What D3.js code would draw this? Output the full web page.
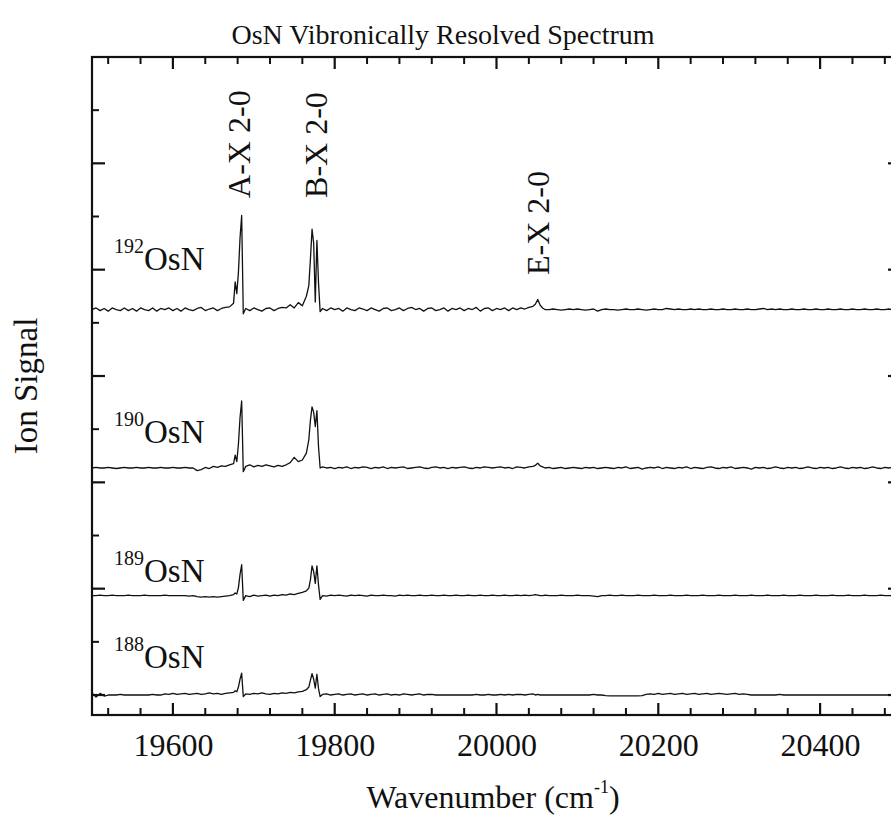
<!DOCTYPE html>
<html><head><meta charset="utf-8">
<script src="https://cdn.jsdelivr.net/npm/d3@7"></script>
<style>
body{margin:0;background:#fff}
text{font-family:"Liberation Serif","Times New Roman",serif;fill:#111}
</style>
</head><body><svg id="c" width="891" height="829"></svg>
<script>
// ---------- DATA ----------
const wavenumbers = [
19500,19505,19510,19515,19520,19525,19530,19535,19540,19545,
19550,19555,19560,19565,19570,19575,19580,19585,19590,19595,
19600,19605,19610,19615,19620,19625,19630,19635,19640,19645,
19650,19655,19660,19665,19670,19675,19677,19679,19681,19683,
19685,19687,19690,19695,19700,19705,19710,19715,19720,19725,
19730,19735,19740,19745,19750,19755,19760,19765,19768,19770,
19772,19774,19776,19778,19780,19782,19785,19790,19795,19800,
19805,19810,19815,19820,19825,19830,19835,19840,19845,19850,
19855,19860,19865,19870,19875,19880,19885,19890,19895,19900,
19905,19910,19915,19920,19925,19930,19935,19940,19945,19950,
19955,19960,19965,19970,19975,19980,19985,19990,19995,20000,
20005,20010,20015,20020,20025,20030,20035,20040,20045,20048,
20051,20054,20057,20060,20065,20070,20075,20080,20085,20090,
20095,20100,20105,20110,20115,20120,20125,20130,20135,20140,
20145,20150,20155,20160,20165,20170,20175,20180,20185,20190,
20195,20200,20205,20210,20215,20220,20225,20230,20235,20240,
20245,20250,20255,20260,20265,20270,20275,20280,20285,20290,
20295,20300,20305,20310,20315,20320,20325,20330,20335,20340,
20345,20350,20355,20360,20365,20370,20375,20380,20385,20390,
20395,20400,20405,20410,20415,20420,20425,20430,20435,20440,
20445,20450,20455,20460,20465,20470,20475,20480,20485,20490,
20495,20500];

const signal192 = [
0.00,0.03,-0.02,0.02,-0.03,0.03,0.00,-0.02,0.03,-0.02,
0.02,-0.03,0.03,0.00,-0.02,0.03,-0.03,0.02,0.00,0.03,
-0.02,0.02,-0.03,0.03,0.00,-0.02,0.02,0.04,-0.02,0.01,
0.03,-0.02,0.02,0.04,0.05,0.12,0.52,0.30,0.70,1.35,
1.77,-0.08,0.02,-0.02,0.03,0.00,-0.03,0.02,0.03,-0.02,
0.02,0.04,0.03,0.09,0.03,0.13,0.07,0.25,0.45,0.95,
1.51,1.25,0.14,1.30,0.50,-0.04,0.02,-0.02,0.03,0.00,
0.02,-0.03,0.03,0.00,-0.02,0.03,0.01,-0.02,0.03,0.00,
-0.03,0.02,0.03,-0.02,0.00,0.03,-0.02,0.02,0.04,0.00,
0.02,-0.03,0.02,0.03,-0.02,0.00,0.03,-0.03,0.02,0.00,
0.03,-0.02,0.02,0.00,0.04,-0.03,0.02,0.03,-0.02,0.02,
0.00,0.03,-0.02,0.03,0.00,0.03,0.01,0.04,0.06,0.10,
0.19,0.08,0.03,0.00,0.00,0.01,0.00,-0.01,0.00,0.01,
0.00,0.01,0.00,-0.01,0.00,0.01,-0.03,0.00,0.01,0.00,
0.00,-0.01,0.00,0.01,0.00,0.00,0.01,0.00,-0.01,0.00,
0.01,0.00,0.00,0.02,0.01,0.00,0.01,0.00,0.00,0.01,
0.00,0.01,0.00,0.00,0.01,0.00,0.00,0.01,0.00,0.00,
0.01,0.00,0.00,0.01,0.00,0.00,0.01,0.02,0.00,0.01,
0.00,0.01,0.00,0.00,0.01,0.00,0.00,0.01,0.00,0.00,
0.01,0.00,0.00,0.01,0.00,0.00,0.01,0.00,0.00,0.01,
0.00,0.00,0.01,0.00,0.00,0.01,0.00,0.00,0.01,0.00,
0.00,0.01];

const signal190 = [
0.00,0.01,0.00,0.00,0.01,0.00,-0.01,0.00,0.01,0.00,
0.00,0.01,0.00,0.00,0.01,0.00,0.00,0.01,0.00,0.00,
0.01,0.00,0.00,0.01,0.00,0.00,-0.05,-0.03,0.01,-0.01,
0.03,0.01,0.04,0.03,0.06,0.08,0.24,0.12,0.45,0.95,
1.26,-0.07,0.03,0.06,0.02,0.05,0.03,0.06,0.04,0.02,
0.05,0.03,0.06,0.10,0.20,0.12,0.15,0.28,0.53,0.90,
1.15,1.05,0.78,1.08,0.40,0.00,0.02,0.00,0.01,-0.01,
0.01,0.00,0.02,-0.01,0.01,0.00,0.02,0.01,-0.01,0.01,
0.00,0.02,-0.01,0.01,0.00,0.01,0.02,-0.01,0.00,0.01,
0.02,0.00,-0.01,0.01,0.02,0.00,0.01,-0.01,0.01,0.00,
0.01,0.02,0.00,-0.01,0.01,0.00,0.02,0.01,0.00,0.01,
0.02,0.00,0.01,-0.01,0.02,0.01,0.00,0.02,0.03,0.05,
0.09,0.04,0.02,0.00,0.01,-0.01,0.00,0.01,-0.01,0.00,
0.01,0.00,-0.01,0.01,0.00,0.01,-0.01,0.00,0.01,0.00,
-0.01,0.01,0.00,0.02,-0.01,0.00,0.01,-0.02,0.00,0.01,
0.00,0.02,-0.01,0.01,0.00,-0.01,0.01,0.00,0.02,-0.01,
0.01,0.00,-0.01,0.01,0.02,0.00,-0.01,0.01,0.00,0.02,
-0.01,0.00,0.01,0.00,-0.02,0.01,0.00,0.01,-0.01,0.00,
0.02,0.00,-0.01,0.01,0.00,0.01,-0.01,0.00,0.02,0.00,
-0.01,0.01,0.00,0.01,-0.01,0.00,0.02,0.00,-0.01,0.01,
0.00,0.01,-0.01,0.00,0.02,0.00,-0.01,0.01,0.00,0.01,
0.00,-0.01];

const signal189 = [
0.00,0.00,0.01,0.00,0.00,0.01,0.00,0.00,0.00,0.01,
0.00,0.00,0.00,0.01,0.00,0.00,0.00,0.00,0.01,0.00,
0.00,0.00,0.00,0.00,-0.01,0.00,-0.02,-0.03,-0.02,-0.03,
-0.02,-0.03,-0.02,-0.01,0.00,0.02,0.05,0.03,0.15,0.40,
0.58,-0.09,0.00,-0.02,0.01,-0.01,0.00,0.01,-0.01,0.01,
0.00,0.02,0.01,0.03,0.02,0.04,0.06,0.09,0.14,0.30,
0.56,0.45,0.23,0.56,0.20,-0.07,0.00,-0.01,0.01,0.00,
0.01,0.00,-0.01,0.01,0.00,0.01,0.00,-0.01,0.01,0.00,
0.00,0.01,0.00,0.00,-0.01,0.01,0.00,0.01,0.00,0.00,
0.01,0.00,0.00,0.01,0.00,0.00,0.01,0.00,0.00,0.01,
0.00,0.00,0.01,0.00,0.00,0.01,0.00,0.00,0.01,0.00,
0.00,0.01,0.00,0.00,0.01,0.00,0.01,0.00,0.01,0.02,
0.01,0.00,0.00,0.01,0.00,0.00,0.00,0.01,0.00,0.00,
0.00,0.01,0.00,0.00,0.00,-0.01,-0.02,0.00,0.00,0.01,
0.00,0.00,0.01,0.00,0.00,0.00,0.01,0.00,0.00,0.00,
0.01,0.00,0.00,0.00,0.01,0.00,0.00,0.00,0.01,0.00,
0.00,0.00,0.01,0.00,0.00,0.00,0.01,0.00,0.00,0.00,
0.01,0.00,0.00,0.00,0.01,0.00,0.00,0.00,0.01,0.00,
0.00,0.00,0.01,0.00,0.00,0.00,0.01,0.00,0.00,0.00,
0.01,0.00,0.00,0.00,0.01,0.00,0.00,0.00,0.01,0.00,
0.00,0.00,0.01,0.00,0.00,0.00,0.01,0.00,0.00,0.00,
0.01,0.00];

const signal188 = [
0.04,-0.04,0.03,-0.02,0.00,0.00,0.00,0.01,0.00,0.00,
0.00,0.00,0.00,0.00,0.00,0.01,0.00,0.00,0.02,0.01,
0.03,0.01,0.02,0.03,0.01,0.02,0.03,0.01,0.02,0.04,
0.02,0.03,0.01,0.03,0.04,0.05,0.08,0.06,0.15,0.30,
0.41,-0.03,0.02,0.01,0.03,0.02,0.04,0.02,0.01,0.03,
0.02,0.04,0.03,0.05,0.04,0.06,0.07,0.10,0.15,0.28,
0.40,0.30,0.13,0.39,0.12,-0.03,0.01,0.02,0.00,0.01,
0.02,0.00,0.01,0.02,0.00,0.01,0.02,0.00,0.01,0.02,
0.00,0.01,0.02,0.00,0.01,0.00,0.02,0.01,0.00,0.01,
0.02,0.00,0.01,0.01,0.00,0.00,0.00,0.00,0.00,0.00,
0.00,0.00,0.00,0.00,0.01,0.00,0.00,0.01,0.00,0.00,
0.01,0.00,0.01,0.00,0.01,0.01,0.00,0.01,0.02,0.00,
0.01,0.00,0.00,0.00,0.00,0.00,0.00,0.00,0.00,0.00,
0.00,0.00,0.00,0.00,0.00,0.01,0.00,0.00,-0.01,-0.015,
-0.015,-0.015,-0.015,-0.015,-0.015,-0.015,-0.015,-0.01,0.01,0.02,
0.01,0.03,0.01,0.02,0.03,0.01,0.02,0.03,0.01,0.02,
0.03,0.01,0.02,0.03,0.01,0.02,0.03,0.02,0.01,0.02,
0.03,0.01,0.02,0.01,0.00,0.00,0.00,0.00,0.00,0.00,
0.00,0.01,0.00,0.00,0.00,0.00,0.00,0.00,0.00,0.00,
0.00,0.00,0.00,0.00,0.00,0.00,0.00,0.00,0.00,0.00,
0.00,0.00,0.00,0.00,0.00,0.00,0.00,0.00,0.00,0.00,
0.00,0.00];

const isotopes = ["192", "190", "189", "188"];
const isotopeSignals = [signal192, signal190, signal189, signal188];
const isotopeOffsets = [7.25, 4.27, 1.87, 0.0];
const isotopeLabelY = [7.99, 4.74, 2.12, 0.51];

const bandLabels = ["A-X 2-0", "B-X 2-0", "E-X 2-0"];
const bandWavenumbers = [19695, 19790, 20065];
const bandLabelY = [9.35, 9.35, 7.9];

const xDomain = [19500, 20500];
const yDomain = [-0.376, 12];
const xMajorTicks = [19600, 19800, 20000, 20200, 20400];
const xMinorTicks = [19520,19560,19640,19680,19720,19760,19840,19880,19920,19960,
  20040,20080,20120,20160,20240,20280,20320,20360,20440,20480];
const yMajorTicks = [0, 2, 4, 6, 8, 10];
const yMinorTicks = [1, 3, 5, 7, 9, 11];

// ---------- CHART ----------
const svg = d3.select("#c");
const L = 92, T = 57, R = 901, B = 715;
const x = d3.scaleLinear().domain(xDomain).range([L, R]);
const y = d3.scaleLinear().domain(yDomain).range([B, T]);
const INK = "#111";

// tick labels (bottom) via d3 axis
const bx = svg.append("g").attr("transform", `translate(0,${B})`)
  .call(d3.axisBottom(x).tickValues(xMajorTicks).tickSize(0).tickPadding(18).tickFormat(d3.format("d")));
bx.select(".domain").remove();
bx.selectAll("text").attr("font-size", 32).attr("font-family", '"Liberation Serif",serif').attr("fill", INK);

// inward tick marks on all four sides
const xTickData = xMinorTicks.map(v => ({v, len: 7, w: 2})).concat(xMajorTicks.map(v => ({v, len: 12, w: 2.2})));
const yTickData = yMinorTicks.map(v => ({v, len: 7, w: 2})).concat(yMajorTicks.map(v => ({v, len: 13, w: 2.2})));
const tg = svg.append("g");
tg.selectAll("line.xb").data(xTickData).join("line").attr("class", "xb")
  .attr("x1", d => x(d.v)).attr("x2", d => x(d.v)).attr("y1", B).attr("y2", d => B - d.len)
  .attr("stroke", INK).attr("stroke-width", d => d.w);
tg.selectAll("line.xt").data(xTickData).join("line").attr("class", "xt")
  .attr("x1", d => x(d.v)).attr("x2", d => x(d.v)).attr("y1", T).attr("y2", d => T + d.len)
  .attr("stroke", INK).attr("stroke-width", d => d.w);
tg.selectAll("line.yl").data(yTickData).join("line").attr("class", "yl")
  .attr("y1", d => y(d.v)).attr("y2", d => y(d.v)).attr("x1", L).attr("x2", d => L + d.len)
  .attr("stroke", INK).attr("stroke-width", d => d.w);
tg.selectAll("line.yr").data(yTickData).join("line").attr("class", "yr")
  .attr("y1", d => y(d.v)).attr("y2", d => y(d.v)).attr("x1", R).attr("x2", d => R - d.len)
  .attr("stroke", INK).attr("stroke-width", d => d.w);

// frame
svg.append("rect").attr("x", L).attr("y", T).attr("width", R - L).attr("height", B - T)
  .attr("fill", "none").attr("stroke", INK).attr("stroke-width", 2.2);

// traces
const line = d3.line().x(d => x(d[0])).y(d => y(d[1]));
isotopes.forEach((iso, i) => {
  const pts = wavenumbers.map((w, k) => [w, isotopeSignals[i][k] + isotopeOffsets[i]]);
  svg.append("path").datum(pts).attr("d", line)
    .attr("fill", "none").attr("stroke", INK).attr("stroke-width", 1.3)
    .attr("stroke-linejoin", "round");
  const t = svg.append("text").attr("x", 114).attr("y", y(isotopeLabelY[i]));
  t.append("tspan").attr("font-size", 20).attr("dy", -17).text(iso);
  t.append("tspan").attr("font-size", 33).attr("dy", 17).text("OsN");
});

// band labels
bandLabels.forEach((lab, i) => {
  svg.append("text")
    .attr("transform", `translate(${x(bandWavenumbers[i])},${y(bandLabelY[i])}) rotate(-90)`)
    .attr("font-size", 32).text(lab);
});

// titles
svg.append("text").attr("x", 443).attr("y", 44).attr("text-anchor", "middle")
  .attr("font-size", 28).text("OsN Vibronically Resolved Spectrum");
const xl = svg.append("text").attr("x", 493).attr("y", 808).attr("text-anchor", "middle").attr("font-size", 32);
xl.append("tspan").text("Wavenumber (cm");
xl.append("tspan").attr("font-size", 18).attr("dy", -15).text("-1");
xl.append("tspan").attr("dy", 15).text(")");
svg.append("text").attr("transform", "translate(37,386) rotate(-90)").attr("text-anchor", "middle")
  .attr("font-size", 33).text("Ion Signal");
</script>
</body></html>
